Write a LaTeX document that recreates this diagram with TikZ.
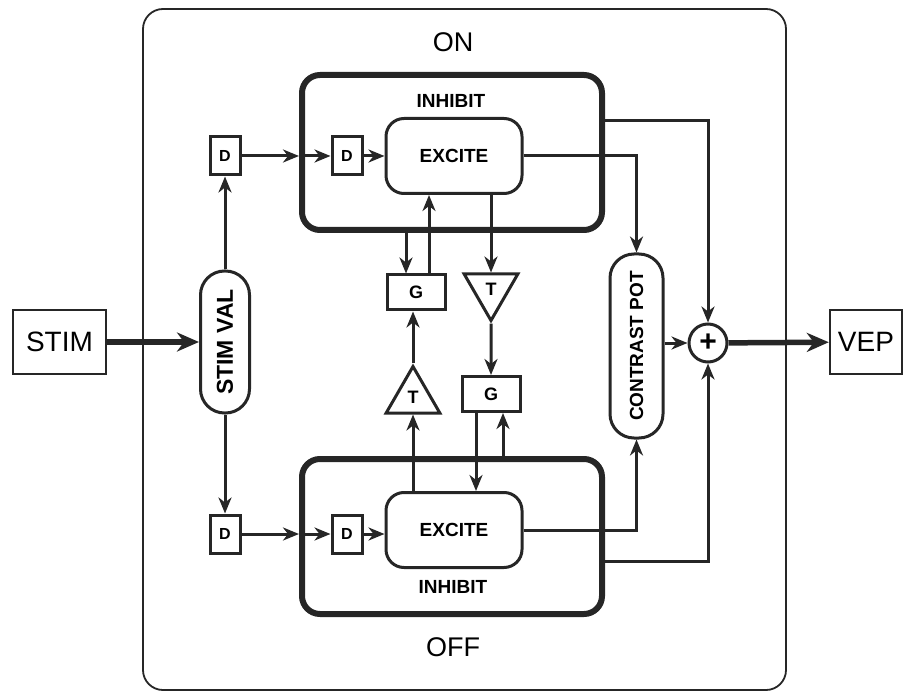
\documentclass[tikz,border=0pt]{standalone}
\usepackage{graphicx}
\usepackage{fontspec}
\setmainfont{Liberation Sans}
\usepackage{tikz}
\usetikzlibrary{arrows.meta,shapes.geometric}
\colorlet{ink}{black!85}
\newcommand{\Up}[1]{\rotatebox{90}{#1}}

\begin{document}
\begin{tikzpicture}[
  x=1pt,y=-1pt,
  frame/.style={draw=ink,rounded corners=20pt,line width=1.8pt,minimum width=643pt,minimum height=681pt},
  panel/.style={draw=ink,rounded corners=18pt,line width=6pt,minimum width=300pt,minimum height=155pt},
  unit/.style={draw=ink,rounded corners=18pt,line width=3pt,minimum width=136pt,minimum height=75pt,font=\bfseries\fontsize{19}{22}\selectfont},
  dbox/.style={draw=ink,line width=3pt,minimum width=30pt,minimum height=38pt,inner sep=0pt,font=\bfseries\fontsize{16}{18}\selectfont},
  gbox/.style={draw=ink,line width=3pt,minimum width=58pt,minimum height=35pt,inner sep=0pt,font=\bfseries\fontsize{18}{20}\selectfont},
  tri/.style={draw=ink,regular polygon,regular polygon sides=3,minimum size=62pt,inner sep=1pt,line width=3pt,font=\bfseries\fontsize{18}{20}\selectfont},
  pill/.style={draw=ink,rounded corners=24pt,line width=3pt,inner sep=0pt},
  io/.style={draw=ink,line width=2.4pt,minimum height=64pt,font=\fontsize{28}{32}\selectfont},
  sum/.style={draw=ink,circle,line width=3pt,minimum size=38pt,inner sep=0pt,font=\bfseries\fontsize{30}{30}\selectfont},
  title/.style={font=\fontsize{27}{30}\selectfont},
  tag/.style={font=\bfseries\fontsize{19}{22}\selectfont},
  flow/.style={-{Stealth[length=16pt,width=13pt,inset=5pt]},line width=3pt,color=ink},
  bigflow/.style={-{Stealth[length=22pt,width=19pt,inset=7pt]},line width=5.5pt,color=ink}
]
\useasboundingbox (0,0) rectangle (904,692);
\node[frame] (frame) at (464.5,349.5) {};
\node[title] (lbOn) at (453,42) {ON};
\node[title] (lbOff) at (453,647) {OFF};
\node[panel] (onbox) at (452,152.5) {};
\node[panel] (offbox) at (452,536.5) {};
\node[tag] (inhOn) at (451,101) {INHIBIT};
\node[tag] (inhOff) at (453,587) {INHIBIT};
\node[unit] (excOn) at (454,156) {EXCITE};
\node[unit] (excOff) at (454,530) {EXCITE};
\node[io,minimum width=93pt] (stim) at (59.5,342) {STIM};
\node[io,minimum width=72pt] (vep) at (866,342) {VEP};
\node[pill,minimum width=49pt,minimum height=142pt,font=\bfseries\fontsize{23}{26}\selectfont] (stimval) at (225,342) {\Up{STIM VAL}};
\node[pill,minimum width=53pt,minimum height=184pt,font=\bfseries\fontsize{19}{22}\selectfont] (cpot) at (636.5,346) {\Up{CONTRAST POT}};
\node[sum] (sum) at (708,343) {+};
\node[dbox] (dOn1) at (225,156) {D};
\node[dbox] (dOn2) at (347,156) {D};
\node[dbox] (dOff1) at (225,534) {D};
\node[dbox] (dOff2) at (347,534) {D};
\node[gbox] (gOn) at (416,292.5) {G};
\node[gbox] (gOff) at (491,394) {G};
\node[tri,shape border rotate=180] (tOn) at (491,289.5) {T};
\node[tri] (tOff) at (413,397.5) {T};
\coordinate (gOnL) at ([xshift=-10pt]gOn.north);
\coordinate (gOnR) at ([xshift=13pt]gOn.north);
\coordinate (gOffL) at ([xshift=-15pt]gOff.south);
\coordinate (gOffR) at ([xshift=12pt]gOff.south);
% input side
\draw[bigflow] (stim) -- (stimval);
\draw[flow] (stimval.north) -- (dOn1.south);
\draw[flow] (stimval.south) -- (dOff1.north);
\draw[flow] (dOn1) -- (onbox.west |- dOn1);
\draw[flow] (onbox.west |- dOn1) -- (dOn2);
\draw[flow] (dOn2) -- (excOn);
\draw[flow] (dOff1) -- (offbox.west |- dOff1);
\draw[flow] (offbox.west |- dOff1) -- (dOff2);
\draw[flow] (dOff2) -- (excOff.west |- dOff2);
% cross links
\draw[flow] (gOnL |- onbox.south) -- (gOnL);
\draw[flow] (gOnR) -- (gOnR |- excOn.south);
\draw[flow] (tOn.north |- excOn.south) -- (tOn.north);
\draw[flow] (tOn.south) -- (gOff.north);
\draw[flow] (gOffL) -- (gOffL |- excOff.north);
\draw[flow] (gOffR |- offbox.north) -- (gOffR);
\draw[flow] (tOff.south |- excOff.north) -- (tOff.south);
\draw[flow] (tOff.north) -- (tOff.north |- gOn.south);
% output side
\draw[flow] (excOn.east) -| (cpot.north);
\draw[flow] (excOff.east) -| (cpot.south);
\draw[flow] ([yshift=31.5pt]onbox.east) -| (sum.north);
\draw[flow] ([yshift=-24.5pt]offbox.east) -| (sum.south);
\draw[flow] (cpot.east |- sum) -- (sum);
\draw[bigflow] (sum) -- (vep);
\end{tikzpicture}
\end{document}
